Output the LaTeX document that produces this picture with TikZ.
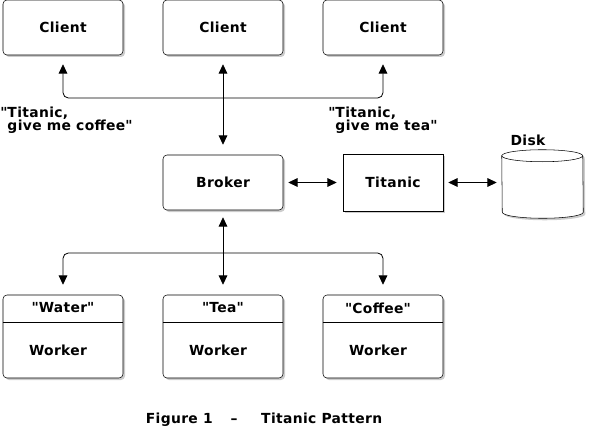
\documentclass[tikz,border=0pt]{standalone}
\usepackage{fontspec}
\setmainfont{DejaVu Sans}[LetterSpace=2.5]
\usetikzlibrary{arrows.meta,shadows}

\begin{document}
\begin{tikzpicture}[x=0.75pt, y=-0.75pt,
        every node/.style={font=\fontsize{10.4}{10}\selectfont\bfseries},
        shade/.style={drop shadow={shadow xshift=1.5pt, shadow yshift=-1.5pt, opacity=0.4}},
        box/.style={draw, fill=white, rounded corners=3pt, minimum width=90pt, minimum height=41.25pt, shade},
        sqbox/.style={draw, fill=white, minimum width=75pt, minimum height=42.75pt, shade},
        workbox/.style={box, minimum height=62.25pt},
        diskarea/.style={inner sep=0pt, minimum width=60.75pt, minimum height=51pt},
        lid/.style={x radius=30.375pt, y radius=4.5pt},
        arr/.style={{Triangle[length=7pt,width=6.5pt]}-{Triangle[length=7pt,width=6.5pt]}, semithick}]
    \useasboundingbox (0,0) rectangle (589,428);
    \node[box] (c1) at (63,27.5) {Client};
    \node[box] (c2) at (223,27.5) {Client};
    \node[box] (c3) at (383,27.5) {Client};
    \node[box] (broker) at (223,182.5) {Broker};
    \node[sqbox] (titanic) at (393,182.5) {Titanic};
    \node[diskarea] (disk) at (542.5,184) {};
    \draw[fill=white, shade] ([yshift=-4.5pt]disk.north west) arc[start angle=180, end angle=0, lid]
        -- ([yshift=4.5pt]disk.south east) arc[start angle=0, end angle=-180, lid] -- cycle;
    \draw ([yshift=-4.5pt]disk.north west) arc[start angle=180, end angle=360, lid];
    \node (disklbl) at (528,140) {Disk};
    \node[anchor=north west, align=left, inner sep=0pt] (q1) at (0,106.5) {\textquotedbl Titanic,\\\phantom{\textquotedbl}give me coffee\textquotedbl};
    \node[anchor=north west, align=left, inner sep=0pt] (q2) at (328,106.5) {\textquotedbl Titanic,\\\phantom{\textquotedbl}give me tea\textquotedbl};
    \node[workbox] (w1) at (63,336.5) {};
    \node[workbox] (w2) at (223,336.5) {};
    \node[workbox] (w3) at (383,336.5) {};
    \draw (w1.west |- 0,322) -- (w1.east |- 0,322);
    \draw (w2.west |- 0,322) -- (w2.east |- 0,322);
    \draw (w3.west |- 0,322) -- (w3.east |- 0,322);
    \node (w1top) at (63,308) {\textquotedbl Water\textquotedbl};
    \node (w2top) at (223,308) {\textquotedbl Tea\textquotedbl};
    \node (w3top) at (378,308) {\textquotedbl Coffee\textquotedbl};
    \node (w1txt) at (58,350) {Worker};
    \node (w2txt) at (218,350) {Worker};
    \node (w3txt) at (378,350) {Worker};
    \node (fig) at (264,420) {Figure 1\hspace{1.3em}--\hspace{1.7em}Titanic Pattern};
    \coordinate (topbus) at (223,98);
    \coordinate (botbus) at (223,253);
    \draw[arr, rounded corners=4pt, shorten <=6.75pt, shorten >=6.75pt] (c1.south) -- (c1.south |- topbus) -- (c3.south |- topbus) -- (c3.south);
    \draw[arr, shorten <=6.75pt, shorten >=7.5pt] (c2) -- (broker);
    \draw[arr, shorten <=5.25pt, shorten >=7.5pt] (broker) -- (w2);
    \draw[arr, rounded corners=4pt, shorten <=7.5pt, shorten >=7.5pt] (w1.north) -- (w1.north |- botbus) -- (w3.north |- botbus) -- (w3.north);
    \draw[arr, shorten <=3.75pt, shorten >=4.5pt] (broker) -- (titanic);
    \draw[arr, shorten <=3.75pt, shorten >=3.75pt] (titanic.east) -- (titanic.east -| disk.west);
\end{tikzpicture}
\end{document}
